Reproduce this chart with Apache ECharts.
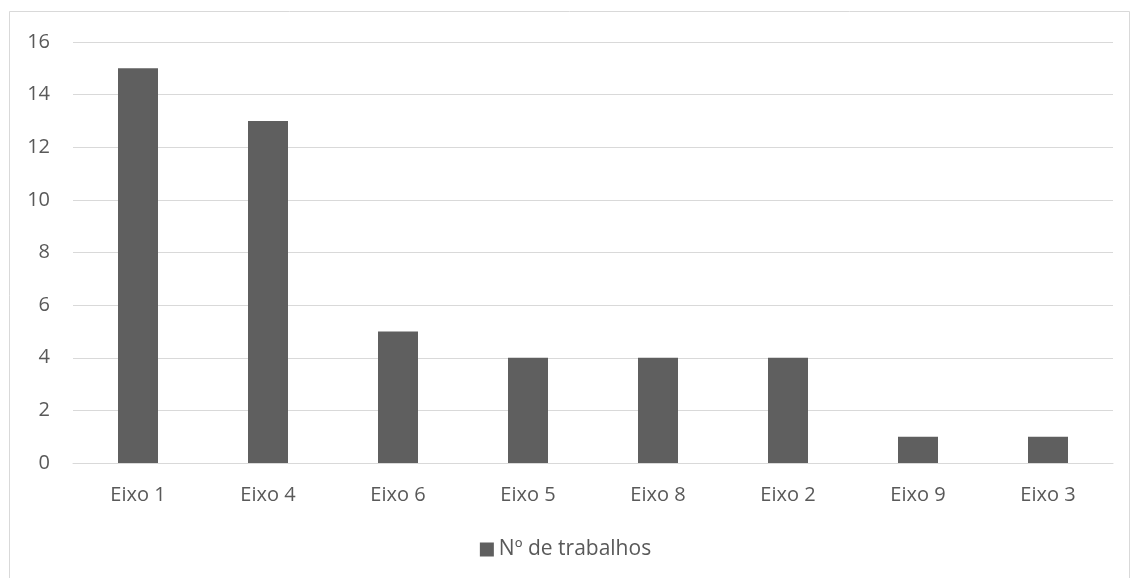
<!DOCTYPE html>
<html>
<head>
<meta charset="utf-8">
<script src="https://cdn.jsdelivr.net/npm/echarts@6/dist/echarts.min.js"></script>
<style>
  html, body { margin: 0; padding: 0; background: #fff; }
  #chart { width: 1131px; height: 578px; }
</style>
</head>
<body>
<div id="chart"></div>
<script>
// Number of works per thematic axis
const categories = ['Eixo 1', 'Eixo 4', 'Eixo 6', 'Eixo 5', 'Eixo 8', 'Eixo 2', 'Eixo 9', 'Eixo 3'];
const trabalhos = [15, 13, 5, 4, 4, 4, 1, 1];
const seriesName = 'Nº de trabalhos';

const textColor = '#595959';
const gridColor = '#d9d9d9';
const fontFamily = '"Open Sans", "Liberation Sans", sans-serif';
const fontSize = 20;

const chart = echarts.init(document.getElementById('chart'), null, { renderer: 'canvas' });
chart.setOption({
  animation: false,
  backgroundColor: '#ffffff',
  textStyle: { fontFamily: fontFamily, color: textColor },
  graphic: [{
    type: 'rect',
    shape: { x: 9.5, y: 11.5, width: 1120, height: 600 },
    style: { fill: 'none', stroke: gridColor, lineWidth: 1 },
    silent: true,
    z: -1
  }],
  grid: { left: 73, right: 18, top: 42, bottom: 115, containLabel: false },
  legend: {
    data: [seriesName],
    top: 534,
    left: 'center',
    itemWidth: 14,
    itemHeight: 14,
    icon: 'rect',
    textStyle: { color: textColor, fontSize: 21, fontFamily: fontFamily }
  },
  xAxis: {
    type: 'category',
    data: categories,
    axisLine: { lineStyle: { color: gridColor, width: 1 } },
    axisTick: { show: false },
    axisLabel: { color: textColor, fontSize: fontSize, margin: 22, fontFamily: fontFamily }
  },
  yAxis: {
    type: 'value',
    min: 0,
    max: 16,
    interval: 2,
    axisLine: { show: false },
    axisTick: { show: false },
    splitLine: { lineStyle: { color: gridColor, width: 1 } },
    axisLabel: { color: textColor, fontSize: fontSize, margin: 23, fontFamily: fontFamily }
  },
  series: [{
    name: seriesName,
    type: 'bar',
    data: trabalhos,
    barWidth: 40,
    itemStyle: { color: '#5f5f5f' }
  }]
});
</script>
</body>
</html>
